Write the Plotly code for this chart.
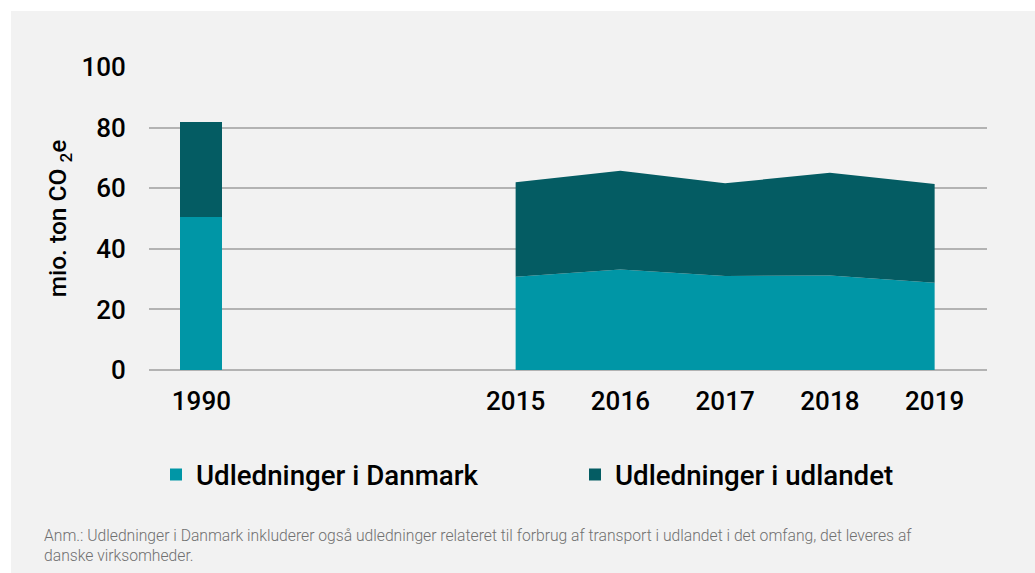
import plotly.graph_objects as go

categories = ["1990", " ", "  ", "2015", "2016", "2017", "2018", "2019"]
bar_years = ["1990"]
bar_dk = [50.5]
bar_abroad = [31.3]
area_years = ["2015", "2016", "2017", "2018", "2019"]
area_dk = [30.8, 33.2, 31.0, 31.2, 28.8]
area_abroad = [31.2, 32.6, 30.6, 33.9, 32.6]

name_dk = "Udledninger i Danmark"
name_abroad = "Udledninger i udlandet"
c_dk = "#0096a6"
c_abroad = "#045c63"

fig = go.Figure()
fig.add_trace(go.Bar(x=bar_years, y=bar_dk, name=name_dk, marker_color=c_dk,
                     width=0.4, legendgroup="dk", marker_line_width=0))
fig.add_trace(go.Bar(x=bar_years, y=bar_abroad, name=name_abroad, marker_color=c_abroad,
                     width=0.4, legendgroup="ab", marker_line_width=0))
fig.add_trace(go.Scatter(x=area_years, y=area_dk, stackgroup="a", mode="none",
                         fillcolor=c_dk, name=name_dk, legendgroup="dk", showlegend=False))
fig.add_trace(go.Scatter(x=area_years, y=area_abroad, stackgroup="a", mode="none",
                         fillcolor=c_abroad, name=name_abroad, legendgroup="ab", showlegend=False))

W, H = 1035, 573
L, R, T, B = 149, 48, 67, 203
pw, ph = W - L - R, H - T - B

fig.add_shape(type="rect", xref="paper", yref="paper",
              x0=(11 - L) / pw, x1=(W - L) / pw + 0.01,
              y0=-(B + 5) / ph, y1=(ph + T - 11) / ph,
              fillcolor="#f2f2f2", line_width=0, layer="below")

fig.update_layout(
    width=W, height=H,
    margin=dict(l=L, r=R, t=T, b=B, pad=0),
    paper_bgcolor="white",
    plot_bgcolor="rgba(0,0,0,0)",
    barmode="stack",
    font=dict(family="Roboto", color="black"),
    showlegend=True,
    legend=dict(orientation="h", xref="container", yref="container",
                x=156 / W, xanchor="left",
                y=1 - 475 / H, yanchor="middle",
                font=dict(size=27.7, family="Roboto", color="black", weight=500),
                entrywidth=374, entrywidthmode="pixels", itemwidth=30,
                bgcolor="rgba(0,0,0,0)", traceorder="normal"),
    xaxis=dict(type="category", categoryorder="array", categoryarray=categories,
               range=[-0.5, len(categories) - 0.5],
               tickfont=dict(size=26, color="black", weight=500), showgrid=False,
               showline=False, ticks="outside", ticklen=8, tickcolor="rgba(0,0,0,0)",
               zeroline=False),
    yaxis=dict(range=[0, 100], dtick=20, tickfont=dict(size=26, color="black", weight=500),
               showgrid=True, gridcolor="#b3b3b3", gridwidth=2,
               zeroline=True, zerolinecolor="#b3b3b3", zerolinewidth=2,
               ticks="outside", ticklen=17, tickcolor="rgba(0,0,0,0)",
               title=dict(text="mio. ton CO <sub>2</sub>e",
                          font=dict(size=24.5, color="black", weight=500),
                          standoff=7)),
    annotations=[dict(
        text="Anm.: Udledninger i Danmark inkluderer også udledninger relateret til forbrug af transport i udlandet i det omfang, det leveres af<br>danske virksomheder.",
        xref="paper", yref="paper", x=(42 - L) / pw, y=-(524 - T - ph) / ph,
        xanchor="left", yanchor="top", align="left", showarrow=False,
        font=dict(size=15.7, color="#707070", family="Roboto", weight=300))],
)

fig.write_html("out.html", config={"displayModeBar": False},
               post_script="document.body.style.margin='0';")
